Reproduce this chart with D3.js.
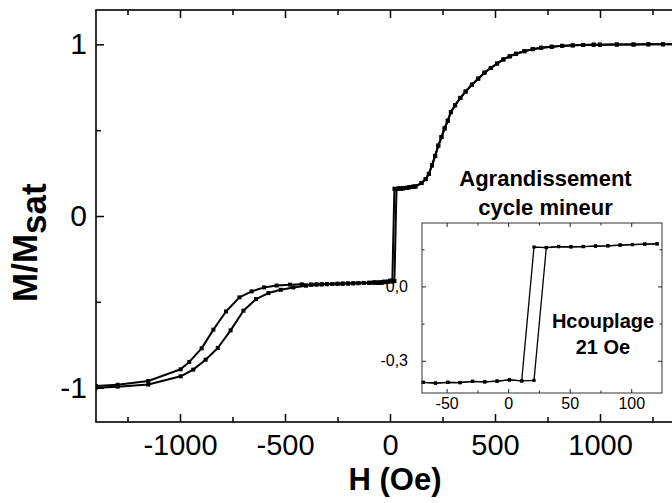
<!DOCTYPE html>
<html><head><meta charset="utf-8">
<script src="https://cdn.jsdelivr.net/npm/d3@7/dist/d3.min.js"></script>
<style>
html,body{margin:0;padding:0;background:#fff;}
svg{display:block;font-family:"Liberation Sans",Arial,sans-serif;}
</style></head>
<body><svg id="chart" width="672" height="503"></svg>
<script>
// ---------- data ----------
// descending sweep, low-field part (upper curve)
const descH = [-420,-476,-540,-600,-659,-717,-781,-841,-897,-956,-997,-1151,-1297,-1400];
const descM = [-0.398,-0.400,-0.405,-0.416,-0.439,-0.474,-0.556,-0.662,-0.771,-0.850,-0.893,-0.961,-0.983,-0.990];
// ascending sweep, low-field part (lower curve)
const ascH = [-1400,-1297,-1151,-997,-937,-878,-820,-759,-698,-638,-579,-520,-460,-400];
const ascM = [-1.000,-0.994,-0.982,-0.934,-0.895,-0.837,-0.769,-0.666,-0.552,-0.484,-0.449,-0.430,-0.416,-0.406];
// plateau shared by both sweeps
const plateauH = [-375,-350,-325,-300,-275,-250,-225,-200,-175,-150,-125,-100,-80];
const plateauM = [-0.400,-0.399,-0.398,-0.397,-0.396,-0.395,-0.394,-0.393,-0.392,-0.391,-0.390,-0.389,-0.388];
// minor loop (inset) - lower and upper plateaus
const minorLowH = [-69,-59,-49,-39,-29,-19,-9,1,11,21];
const minorLowM = [-0.387,-0.390,-0.387,-0.388,-0.383,-0.385,-0.382,-0.377,-0.381,-0.379];
const minorUpH = [21,31,41,51,61,71,81,91,101,111,121];
const minorUpM = [0.159,0.157,0.161,0.160,0.161,0.163,0.164,0.167,0.169,0.171,0.172];
// reversible high-field branch shared by both sweeps
const revH = [150,170,185,200,215,230,245,260,275,290,310,335,360,390,420,450,480,510,540,570,600,640,680,720,770,820,870,920,970,1000,1080,1160,1230,1300,1400];
const revM = [0.192,0.215,0.245,0.295,0.35,0.41,0.46,0.51,0.555,0.605,0.645,0.688,0.725,0.765,0.80,0.835,0.862,0.888,0.912,0.93,0.945,0.96,0.972,0.98,0.986,0.991,0.994,0.996,0.998,0.998,0.999,0.999,1.0,1.0,1.0];

// ticks
const xMajor = [-1000,-500,0,500,1000];
const xTickLabels = ["-1000","-500","0","500","1000"];
const xMinor = [-1250,-750,-250,250,750,1250];
const yMajor = [-1,0,1];
const yMinor = [-0.5,0.5];
const yTickLabels = ["-1","0","1"];
const ixMajor = [-50,0,50,100];
const ixTickLabels = ["-50","0","50","100"];
const ixMinor = [-25,25,75];
const iyMajor = [-0.3,0];
const iyMinor = [-0.15,0.15];
const iyTickLabels = ["-0,3","0,0"];

const xTitle = "H (Oe)";
const yTitleMain = "M/M", yTitleSub = "sat";
const insetTitle = ["Agrandissement","cycle mineur"];
const insetNote = ["Hcouplage","21 Oe"];

// ---------- helpers ----------
const pts = (H,M) => H.map((h,i)=>({h,m:M[i]}));
const ascending = [].concat(
  pts(ascH,ascM), pts(plateauH,plateauM), pts(minorLowH,minorLowM),
  pts(minorUpH,minorUpM).filter(d=>d.h>=31), pts(revH,revM));
const descending = [].concat(
  pts(revH,revM).reverse(), pts(minorUpH,minorUpM).reverse(),
  pts(minorLowH,minorLowM).filter(d=>d.h<=11).reverse(),
  pts(plateauH,plateauM).reverse(), pts(descH,descM));
const insetAsc = [].concat(pts(minorLowH,minorLowM), pts(minorUpH,minorUpM).filter(d=>d.h>=31));
const insetDesc = [].concat(pts(minorUpH,minorUpM).reverse(), pts(minorLowH,minorLowM).filter(d=>d.h<=11).reverse());

const svg = d3.select("#chart");

// ---------- main plot ----------
const L=96,R=684,T=10,B=422;
const x = d3.scaleLinear().domain([-1400,1400]).range([L,R]);
const y = d3.scaleLinear().domain([-1.2,1.2]).range([B,T]);

svg.append("defs").append("clipPath").attr("id","mainclip")
  .append("rect").attr("x",L).attr("y",T).attr("width",R-L).attr("height",B-T);

function styleAxis(g, fs){
  g.select(".domain").remove();
  g.selectAll("line").attr("stroke","#000").attr("stroke-width",1.5);
  g.selectAll("text").attr("font-family","'Liberation Sans',Arial,sans-serif").attr("font-size",fs).attr("fill","#000");
}
// bottom
svg.append("g").attr("transform",`translate(0,${B})`)
  .call(d3.axisBottom(x).tickValues(xMajor).tickSize(-8).tickPadding(12).tickFormat((d,i)=>xTickLabels[i]))
  .call(g=>styleAxis(g,29));
svg.append("g").attr("transform",`translate(0,${B})`)
  .call(d3.axisBottom(x).tickValues(xMinor).tickSize(-5).tickFormat(""))
  .call(g=>styleAxis(g,29));
// top
svg.append("g").attr("transform",`translate(0,${T})`)
  .call(d3.axisTop(x).tickValues(xMajor).tickSize(-8).tickFormat(""))
  .call(g=>styleAxis(g,29));
svg.append("g").attr("transform",`translate(0,${T})`)
  .call(d3.axisTop(x).tickValues(xMinor).tickSize(-5).tickFormat(""))
  .call(g=>styleAxis(g,29));
// left
svg.append("g").attr("transform",`translate(${L},0)`)
  .call(d3.axisLeft(y).tickValues(yMajor).tickSize(-8).tickPadding(9).tickFormat((d,i)=>yTickLabels[i]))
  .call(g=>styleAxis(g,30));
svg.append("g").attr("transform",`translate(${L},0)`)
  .call(d3.axisLeft(y).tickValues(yMinor).tickSize(-5).tickFormat(""))
  .call(g=>styleAxis(g,30));
// right (off-screen mostly)
svg.append("g").attr("transform",`translate(${R},0)`)
  .call(d3.axisRight(y).tickValues(yMajor).tickSize(-8).tickFormat(""))
  .call(g=>styleAxis(g,30));

const line = d3.line().x(d=>x(d.h)).y(d=>y(d.m));
const plot = svg.append("g").attr("clip-path","url(#mainclip)");
[ascending, descending].forEach(data=>{
  plot.append("path").datum(data).attr("d",line)
    .attr("fill","none").attr("stroke","#000").attr("stroke-width",2).attr("stroke-linejoin","round");
  plot.selectAll(null).data(data).enter().append("rect")
    .attr("x",d=>x(d.h)-2).attr("y",d=>y(d.m)-2).attr("width",4).attr("height",4).attr("fill","#000");
});

// frame
svg.append("rect").attr("x",L).attr("y",T).attr("width",R-L).attr("height",B-T)
  .attr("fill","none").attr("stroke","#000").attr("stroke-width",1.6);

// titles
svg.append("text").attr("x",395).attr("y",490).attr("text-anchor","middle")
  .attr("font-size",31).attr("font-weight","bold").text(xTitle);
const yt = svg.append("text").attr("transform","translate(37,302) rotate(-90)")
  .attr("font-size",35).attr("font-weight","bold");
yt.append("tspan").text(yTitleMain);
yt.append("tspan").attr("dy",9).text(yTitleSub);

// ---------- inset ----------
const iL=422,iR=662,iT=223,iB=393;
const xi = d3.scaleLinear().domain([-70,125]).range([iL,iR]);
const yi = d3.scaleLinear().domain([-0.43,0.256]).range([iB,iT]);

svg.append("rect").attr("x",iL).attr("y",iT).attr("width",iR-iL).attr("height",iB-iT).attr("fill","#fff");

function styleInset(g){
  g.select(".domain").remove();
  g.selectAll("line").attr("stroke","#222").attr("stroke-width",1);
  g.selectAll("text").attr("font-family","'Liberation Sans',Arial,sans-serif").attr("font-size",16).attr("fill","#000");
}
svg.append("g").attr("transform",`translate(0,${iB})`)
  .call(d3.axisBottom(xi).tickValues(ixMajor).tickSize(-4).tickPadding(5).tickFormat((d,i)=>ixTickLabels[i])).call(styleInset);
svg.append("g").attr("transform",`translate(0,${iB})`)
  .call(d3.axisBottom(xi).tickValues(ixMinor).tickSize(-2.5).tickFormat("")).call(styleInset);
svg.append("g").attr("transform",`translate(0,${iT})`)
  .call(d3.axisTop(xi).tickValues(ixMajor).tickSize(-4).tickFormat("")).call(styleInset);
svg.append("g").attr("transform",`translate(0,${iT})`)
  .call(d3.axisTop(xi).tickValues(ixMinor).tickSize(-2.5).tickFormat("")).call(styleInset);
svg.append("g").attr("transform",`translate(${iL},0)`)
  .call(d3.axisLeft(yi).tickValues(iyMajor).tickSize(-4).tickPadding(14).tickFormat((d,i)=>iyTickLabels[i])).call(styleInset);
svg.append("g").attr("transform",`translate(${iL},0)`)
  .call(d3.axisLeft(yi).tickValues(iyMinor).tickSize(-2.5).tickFormat("")).call(styleInset);
svg.append("g").attr("transform",`translate(${iR},0)`)
  .call(d3.axisRight(yi).tickValues(iyMajor).tickSize(-4).tickFormat("")).call(styleInset);
svg.append("g").attr("transform",`translate(${iR},0)`)
  .call(d3.axisRight(yi).tickValues(iyMinor).tickSize(-2.5).tickFormat("")).call(styleInset);

const iline = d3.line().x(d=>xi(d.h)).y(d=>yi(d.m));
[insetAsc, insetDesc].forEach(data=>{
  svg.append("path").datum(data).attr("d",iline)
    .attr("fill","none").attr("stroke","#000").attr("stroke-width",1.3);
  svg.selectAll(null).data(data).enter().append("rect")
    .attr("x",d=>xi(d.h)-1.6).attr("y",d=>yi(d.m)-1.6).attr("width",3.2).attr("height",3.2).attr("fill","#000");
});
svg.append("rect").attr("x",iL).attr("y",iT).attr("width",iR-iL).attr("height",iB-iT)
  .attr("fill","none").attr("stroke","#333").attr("stroke-width",1);

// inset texts
svg.append("g").selectAll("text").data(insetTitle).enter().append("text")
  .attr("x",545.5).attr("y",(d,i)=>186+i*29).attr("text-anchor","middle")
  .attr("font-size",22).attr("font-weight","bold").text(d=>d);
svg.append("g").selectAll("text").data(insetNote).enter().append("text")
  .attr("x",603).attr("y",(d,i)=>328+i*26).attr("text-anchor","middle")
  .attr("font-size",20).attr("font-weight","bold").text(d=>d);
</script></body></html>
